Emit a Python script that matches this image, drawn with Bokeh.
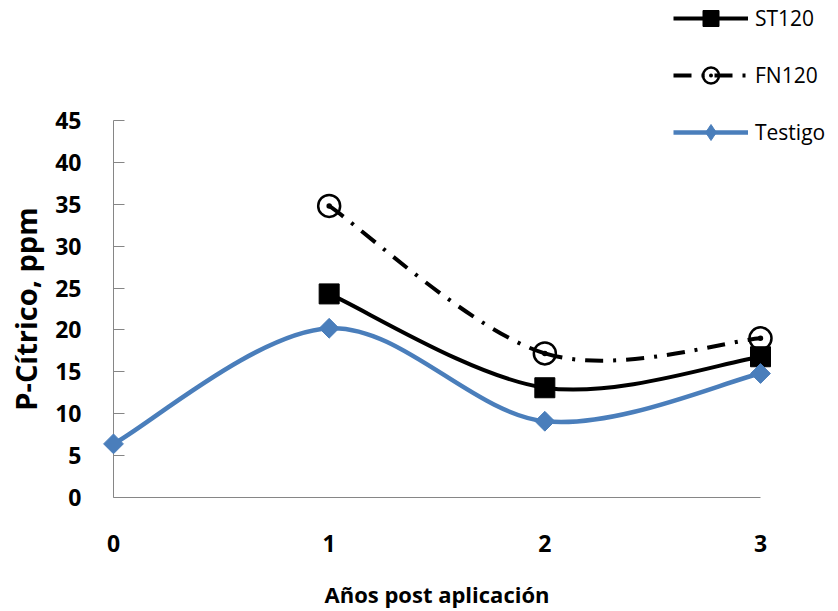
from bokeh.plotting import figure
from bokeh.models import (ColumnDataSource, Range1d, FixedTicker, SingleIntervalTicker,
                          Legend, LegendItem, Label)
from bokeh.embed import file_html
from bokeh.resources import INLINE
import math

# Years after application
years_testigo = [0, 1, 2, 3]
years_treat = [1, 2, 3]
x_ticks = [0, 1, 2, 3]

# Citric-extractable P (ppm)
testigo = [6.4, 20.2, 9.1, 14.8]
st120 = [24.3, 13.1, 16.8]
fn120 = [34.8, 17.2, 19.0]

series_names = ["ST120", "FN120", "Testigo"]
x_title = "Años post aplicación"
y_title = "P-Cítrico, ppm"

BLUE = "#4A7EBB"
AXIS_GRAY = "#868686"
FONT = "Open Sans"

# Page layout in pixels: the plotting frame fills the whole canvas, the axes are
# pinned at x=0 / y=0 and the data area spans x 113..760 px and y 497..120 px.
W, H = 838, 611
X_LO_PX, X_HI_PX = 113, 760
Y_LO_PX, Y_HI_PX = 497, 120
X_MAX, Y_MAX = 3, 45
px_per_x = (X_HI_PX - X_LO_PX) / X_MAX
px_per_y = (Y_LO_PX - Y_HI_PX) / Y_MAX
x_range = Range1d(-X_LO_PX / px_per_x, (W - X_LO_PX) / px_per_x)
y_range = Range1d(-(H - Y_LO_PX) / px_per_y, Y_LO_PX / px_per_y)


def smooth_segments(xs, ys):
    """Cubic Bezier pieces through the points (Catmull-Rom tangents) for a smoothed line."""
    n = len(xs)
    out = dict(x0=[], y0=[], x1=[], y1=[], cx0=[], cy0=[], cx1=[], cy1=[])
    for i in range(n - 1):
        xp, yp = (xs[i - 1], ys[i - 1]) if i > 0 else (xs[i], ys[i])
        xn, yn = (xs[i + 2], ys[i + 2]) if i + 2 < n else (xs[i + 1], ys[i + 1])
        out["x0"].append(xs[i])
        out["y0"].append(ys[i])
        out["x1"].append(xs[i + 1])
        out["y1"].append(ys[i + 1])
        out["cx0"].append(xs[i] + (xs[i + 1] - xp) / 6)
        out["cy0"].append(ys[i] + (ys[i + 1] - yp) / 6)
        out["cx1"].append(xs[i + 1] - (xn - xs[i]) / 6)
        out["cy1"].append(ys[i + 1] - (yn - ys[i]) / 6)
    return ColumnDataSource(out)


p = figure(width=W, height=H, x_range=x_range, y_range=y_range,
           output_backend="svg", toolbar_location=None,
           min_border_left=0, min_border_right=0,
           min_border_top=0, min_border_bottom=0)

p.xgrid.visible = False
p.ygrid.visible = False
p.outline_line_color = None
p.background_fill_color = "white"
p.border_fill_color = "white"

bez = dict(x0="x0", y0="y0", x1="x1", y1="y1", cx0="cx0", cy0="cy0", cx1="cx1", cy1="cy1")

# ST120
b_st = p.bezier(**bez, source=smooth_segments(years_treat, st120),
                line_color="black", line_width=4)
m_st = p.scatter(years_treat, st120, marker="square", size=20,
                 fill_color="black", line_color="black", level="overlay")

# FN120
b_fn = p.bezier(**bez, source=smooth_segments(years_treat, fn120),
                line_color="black", line_width=4, line_dash="18 10 3 10")
m_fn = p.scatter(years_treat, fn120, marker="circle_dot", size=22,
                 line_color="black", line_width=2.5, fill_alpha=0, level="overlay")

# Testigo (rotated squares on the chart; a diamond glyph stands in for the legend key)
b_te = p.bezier(**bez, source=smooth_segments(years_testigo, testigo),
                line_color=BLUE, line_width=4.5)
m_te = p.scatter(years_testigo, testigo, marker="square", angle=math.pi / 4, size=14,
                 fill_color=BLUE, line_color=BLUE, level="overlay")
k_te = p.scatter(years_testigo, testigo, marker="diamond", size=20,
                 fill_color=BLUE, line_color=BLUE, visible=False)

# Axes pinned at the origin
ya = p.yaxis[0]
ya.fixed_location = 0
ya.bounds = (0, Y_MAX)
ya.ticker = SingleIntervalTicker(interval=5)
ya.minor_tick_line_color = None
ya.major_tick_in = 11
ya.major_tick_out = 0
ya.axis_line_color = AXIS_GRAY
ya.major_tick_line_color = AXIS_GRAY
ya.major_label_text_font = FONT
ya.major_label_text_font_style = "bold"
ya.major_label_text_font_size = "23px"
ya.major_label_text_color = "black"
ya.major_label_standoff = 28

xa = p.xaxis[0]
xa.fixed_location = 0
xa.bounds = (0, X_MAX)
xa.ticker = FixedTicker(ticks=x_ticks)
xa.minor_tick_line_color = None
xa.major_tick_in = 0
xa.major_tick_out = 0
xa.major_tick_line_color = None
xa.axis_line_color = AXIS_GRAY
xa.major_label_text_font = FONT
xa.major_label_text_font_style = "bold"
xa.major_label_text_font_size = "23px"
xa.major_label_text_color = "black"
xa.major_label_standoff = 37

# Axis titles, centred on their axes
p.add_layout(Label(x=X_MAX / 2, y=18, x_units="data", y_units="screen",
                   text=x_title, text_align="center", text_baseline="middle",
                   text_font=FONT, text_font_style="bold", text_font_size="22px",
                   text_color="black"))
p.add_layout(Label(x=25, y=Y_MAX / 2, x_units="screen", y_units="data",
                   text=y_title, angle=math.pi / 2,
                   text_align="center", text_baseline="middle",
                   text_font=FONT, text_font_style="bold", text_font_size="29px",
                   text_color="black"))

legend = Legend(
    items=[
        LegendItem(label=series_names[0], renderers=[b_st, m_st]),
        LegendItem(label=series_names[1], renderers=[b_fn, m_fn]),
        LegendItem(label=series_names[2], renderers=[b_te, k_te]),
    ],
    location=(673, H - 152),
    orientation="vertical",
    glyph_width=75, glyph_height=40, label_height=40, spacing=17,
    label_standoff=7, padding=0, margin=0,
    label_text_font=FONT, label_text_font_size="21px", label_text_color="black",
    background_fill_alpha=0, border_line_alpha=0,
)
p.add_layout(legend, "center")

open("out.html", "w").write(file_html(p, INLINE))
